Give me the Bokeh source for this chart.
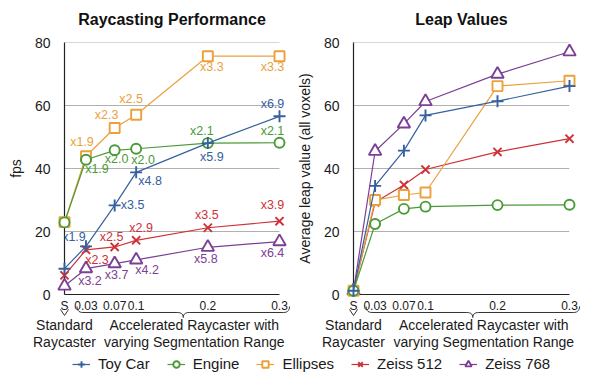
import numpy as np
from bokeh.plotting import figure
from bokeh.models import (Range1d, FixedTicker, Label, LabelSet, ColumnDataSource,
                          Legend, LegendItem)
from bokeh.layouts import column, row
from bokeh.embed import file_html
from bokeh.resources import INLINE
from bokeh.core.properties import value

# ---------------- data ----------------
seg_range = [0, 0.03, 0.07, 0.1, 0.2, 0.3]
tick_labels = ["S", "0.03", "0.07", "0.1", "0.2", "0.3"]
series_names = ["Toy Car", "Engine", "Ellipses", "Zeiss 512", "Zeiss 768"]

toy_car_fps = [8.2, 15.3, 28.3, 38.8, 48.1, 56.6]
engine_fps = [22.9, 42.8, 45.8, 46.3, 48.1, 48.2]
ellipses_fps = [23.0, 43.9, 52.9, 57.1, 75.7, 75.7]
zeiss512_fps = [6.1, 14.2, 15.1, 17.2, 21.2, 23.3]
zeiss768_fps = [2.7, 8.2, 9.8, 11.0, 15.0, 16.8]

toy_car_speedup = ["x1.9", "x3.5", "x4.8", "x5.9", "x6.9"]
engine_speedup = ["x1.9", "x2.0", "x2.0", "x2.1", "x2.1"]
ellipses_speedup = ["x1.9", "x2.3", "x2.5", "x3.3", "x3.3"]
zeiss512_speedup = ["x2.3", "x2.5", "x2.9", "x3.5", "x3.9"]
zeiss768_speedup = ["x3.2", "x3.7", "x4.2", "x5.8", "x6.4"]

toy_car_leap = [1.2, 34.5, 45.7, 56.9, 61.4, 66.2]
engine_leap = [1.2, 22.4, 27.2, 27.9, 28.4, 28.5]
ellipses_leap = [1.2, 30.0, 31.6, 32.4, 66.2, 67.9]
zeiss512_leap = [1.2, 29.3, 34.8, 39.7, 45.3, 49.5]
zeiss768_leap = [1.2, 45.5, 54.2, 61.3, 70.0, 77.1]

titles = ["Raycasting Performance", "Leap Values"]
y_titles = ["fps", "Average leap value (all voxels)"]
group_captions = [("Standard", "Raycaster"),
                  ("Accelerated Raycaster with", "varying Segmentation Range")]

fps = {"Toy Car": toy_car_fps, "Engine": engine_fps, "Ellipses": ellipses_fps,
       "Zeiss 512": zeiss512_fps, "Zeiss 768": zeiss768_fps}
leap = {"Toy Car": toy_car_leap, "Engine": engine_leap, "Ellipses": ellipses_leap,
        "Zeiss 512": zeiss512_leap, "Zeiss 768": zeiss768_leap}
speedup = {"Toy Car": toy_car_speedup, "Engine": engine_speedup, "Ellipses": ellipses_speedup,
           "Zeiss 512": zeiss512_speedup, "Zeiss 768": zeiss768_speedup}

# ---------------- styles ----------------
FONT = "Liberation Sans"
TEXT = "#1a1a1a"
colors = {"Toy Car": "#34609f", "Engine": "#4a9a37", "Ellipses": "#eba13b",
          "Zeiss 512": "#cf3138", "Zeiss 768": "#7b3f95"}
markers = {"Toy Car": "cross", "Engine": "circle", "Ellipses": "square",
           "Zeiss 512": "x", "Zeiss 768": "triangle"}
msize = {"cross": 12, "circle": 10, "square": 10, "x": 11.5, "triangle": 12.5}
draw_order = ["Zeiss 768", "Zeiss 512", "Ellipses", "Engine", "Toy Car"]

# pixel offsets of the speed-up labels from their points (layout only)
label_dx = {"Toy Car": [-12, 18, 14, 4, -7], "Engine": [11, 2, 7, -6, -7],
            "Ellipses": [-4, -8, -5, 4, -7], "Zeiss 512": [11, -3, 5, -1, -7],
            "Zeiss 768": [4, 2, 11, -2, -7]}
label_dy = {"Toy Car": [9, 0, -9, -14, 12], "Engine": [-9, -9, -11, 12, 12],
            "Ellipses": [14, 13, 16, -11, -11], "Zeiss 512": [-10, 10, 12, 13, 16],
            "Zeiss 768": [-12, -11, -10, -12, -11]}

# panel geometry in pixels: (canvas width, left border, frame width for 0..0.3, right border)
GEOM = [(290, 64, 215, 11), (299, 63, 216, 20)]
X_SPAN = seg_range[-1] - seg_range[0]
Y_MAX = 80
PX_Y = Y_MAX / 252.0


def bez(p0, c, p1, n=8):
    t = np.linspace(0, 1, n)
    x = (1 - t) ** 2 * p0[0] + 2 * (1 - t) * t * c[0] + t ** 2 * p1[0]
    y = (1 - t) ** 2 * p0[1] + 2 * (1 - t) * t * c[1] + t ** 2 * p1[1]
    return list(x), list(y)


def strip(i, height):
    w, bl, fw, br = GEOM[i]
    px = X_SPAN / fw
    p = figure(width=w, height=height,
               x_range=Range1d(seg_range[0] - bl * px, seg_range[-1] + br * px),
               y_range=Range1d(0, height), output_backend="svg",
               toolbar_location=None, tools="", x_axis_type=None, y_axis_type=None,
               min_border=0)
    p.outline_line_color = None
    p.grid.visible = False
    return p


def make_chart(i, data, labels=None):
    w, bl, fw, br = GEOM[i]
    px = X_SPAN / fw
    extra = 6 if labels is not None else 0
    p = figure(width=w, height=284,
               x_range=Range1d(seg_range[0], seg_range[-1] + extra * px),
               y_range=Range1d(0, Y_MAX + 0.05),
               output_backend="svg", toolbar_location=None, tools="",
               min_border_left=bl, min_border_right=br - extra,
               min_border_top=8, min_border_bottom=24)
    p.outline_line_color = None
    p.xgrid.visible = False
    p.ygrid.ticker = FixedTicker(ticks=[20, 40, 60, 80])
    p.ygrid.grid_line_color = "#b0b0b0"
    p.ygrid.grid_line_width = 1
    try:
        p.ygrid.cross_bounds = (seg_range[0], seg_range[-1])
    except Exception:
        pass

    p.xaxis.ticker = FixedTicker(ticks=seg_range)
    p.xaxis.bounds = (seg_range[0], seg_range[-1])
    p.xaxis.major_label_overrides = {k: v for k, v in zip(seg_range, tick_labels)}
    p.yaxis.ticker = FixedTicker(ticks=[0, 20, 40, 60, 80])
    for ax in (p.xaxis, p.yaxis):
        ax.axis_line_color = "#222222"
        ax.axis_line_width = 1.2
        ax.major_tick_in = 0
        ax.major_tick_out = 0
        ax.minor_tick_line_color = None
        ax.major_label_text_font = FONT
        ax.major_label_text_color = TEXT
    p.xaxis.major_label_text_font_size = "12px"
    p.xaxis.major_label_standoff = 4
    p.yaxis.major_label_text_font_size = "14px"
    p.yaxis.major_label_standoff = 14
    p.yaxis.axis_label = y_titles[i]
    p.yaxis.axis_label_text_font = FONT
    p.yaxis.axis_label_text_font_size = "14px"
    p.yaxis.axis_label_text_font_style = "normal"
    p.yaxis.axis_label_text_color = TEXT
    p.yaxis.axis_label_standoff = 8

    for name in draw_order:
        c = colors[name]
        m = markers[name]
        p.line(seg_range, data[name], line_color=c, line_width=1.2, level="overlay")
        p.scatter(seg_range, data[name], marker=m, size=msize[m], line_color=c,
                  fill_color="white", line_width=1.9, level="overlay")

    if labels is not None:
        for name in draw_order:
            src = ColumnDataSource(dict(x=seg_range[1:], y=data[name][1:], text=labels[name],
                                        dx=label_dx[name], dy=label_dy[name]))
            p.add_layout(LabelSet(x="x", y="y", text="text", x_offset="dx", y_offset="dy",
                                  source=src, text_align="center", text_baseline="middle",
                                  text_font=value(FONT), text_font_size=value("12.5px"),
                                  text_color=colors[name], level="overlay"))

    # chevron under "S"
    s_x = seg_range[0]
    p.line([s_x - 4 * px, s_x, s_x + 4 * px], [-15 * PX_Y, -21 * PX_Y, -15 * PX_Y],
           line_color="#333333", line_width=1, level="overlay")

    # brace under the accelerated range
    xl = seg_range[1] - 9 * px
    xr = seg_range[-1] + 10 * px
    xm = (xl + xr) / 2
    r = 6 * px
    y_end, y_line, y_tip = -12 * PX_Y, -18 * PX_Y, -23 * PX_Y
    bx, by = [], []
    for seg in [((xl, y_end), (xl, y_line), (xl + r, y_line)),
                ((xm - r, y_line), (xm, y_line), (xm, y_tip)),
                ((xm, y_tip), (xm, y_line), (xm + r, y_line)),
                ((xr - r, y_line), (xr, y_line), (xr, y_end))]:
        sx, sy = bez(*seg)
        bx += sx
        by += sy
    p.line(bx, by, line_color="#333333", line_width=1, level="overlay")
    return p


charts, heads, foots = [], [], []
for i, data in enumerate([fps, leap]):
    charts.append(make_chart(i, data, labels=speedup if i == 0 else None))
    h = strip(i, 34)
    h.add_layout(Label(x=(seg_range[0] + seg_range[-1]) / 2, y=15, text=titles[i],
                       text_align="center", text_baseline="alphabetic", text_font=FONT,
                       text_font_size="16px", text_font_style="bold", text_color="#111111"))
    heads.append(h)
    f = strip(i, 34)
    acc_x = 0.181
    for x, (l1, l2) in zip([seg_range[0], acc_x], group_captions):
        for y, t in [(28, l1), (10.5, l2)]:
            f.add_layout(Label(x=x, y=y, text=t, text_align="center",
                               text_baseline="alphabetic", text_font=FONT,
                               text_font_size="14px", text_color=TEXT))
    foots.append(f)

# legend strip (series drawn off-view; only their legend glyphs show)
p3 = figure(width=589, height=22, x_range=Range1d(-10, -9), y_range=Range1d(-10, -9),
            output_backend="svg", toolbar_location=None, tools="",
            x_axis_type=None, y_axis_type=None, min_border=0)
p3.outline_line_color = None
p3.grid.visible = False
items = []
for name in series_names:
    c = colors[name]
    m = markers[name]
    rl = p3.line(seg_range, fps[name], line_color=c, line_width=1.2)
    rs = p3.scatter(seg_range, fps[name], marker=m, size=msize[m], line_color=c,
                    fill_color="white", line_width=1.9)
    items.append(LegendItem(label=name, renderers=[rl, rs]))
legend = Legend(items=items, orientation="horizontal", location=(72, 2),
                glyph_width=18, glyph_height=16, label_height=16, label_standoff=8,
                spacing=17, padding=0, margin=0, border_line_color=None,
                background_fill_alpha=0, label_text_font=FONT,
                label_text_font_size="15px", label_text_color=TEXT)
p3.add_layout(legend)

layout = column(row(*heads), row(*charts), row(*foots), p3)
open("out.html", "w").write(file_html(layout, INLINE))
